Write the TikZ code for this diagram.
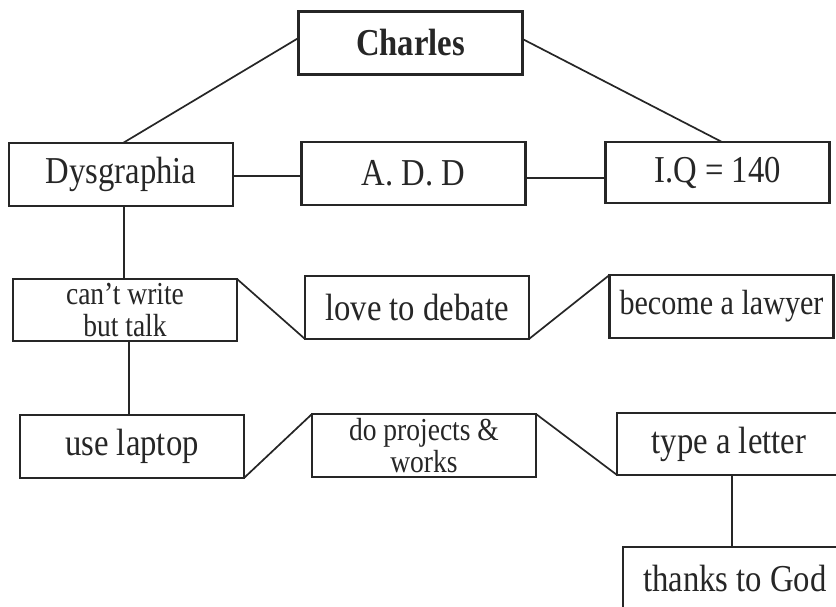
\documentclass[tikz,border=0pt]{standalone}
\usepackage{fontspec}
\setmainfont{Liberation Serif}[FakeStretch=0.86]
\definecolor{ink}{HTML}{262626}
\begin{document}
\begin{tikzpicture}[x=1pt,y=1pt,
  box/.style={draw=ink,line width=2.1pt,minimum width=224pt,minimum height=63pt,
    inner sep=0pt,outer sep=0pt,text=ink,align=center,font=\fontsize{38}{40}\selectfont},
  smalltext/.style={font=\fontsize{32}{32}\selectfont},
  midtext/.style={font=\fontsize{35}{37}\selectfont},
  link/.style={draw=ink,line width=1.7pt}]
\clip (0,0) rectangle (836,607);
\fill[white] (0,0) rectangle (836,607);
% nodes (y = 607 - pixel y)
\node[box,font=\fontsize{38}{40}\selectfont\bfseries] (charles) at (410.5,564) {Charles};
\node[box] (dys) at (121,432.5) {Dysgraphia};
\node[box] (add) at (413.5,433.5) {A. D. D};
\node[box,minimum height=61pt] (iq) at (717.5,434.5) {I.Q = 140};
\node[box,smalltext,minimum height=62pt] (cant) at (125,297) {can’t write\\but talk};
\node[box] (love) at (417,299.5) {love to debate};
\node[box,midtext] (lawyer) at (721.5,300.5) {become a lawyer};
\node[box] (laptop) at (132,160.5) {use laptop};
\node[box,smalltext] (proj) at (424,161.5) {do projects \&\\works};
\node[box,minimum height=62pt] (letter) at (729,163) {type a letter};
\node[box] (thanks) at (735,28.5) {thanks to God};
% connectors
\draw[link] ([yshift=5pt]charles.west) -- ([xshift=2pt]dys.north);
\draw[link] ([yshift=4pt]charles.east) -- ([xshift=4.5pt]iq.north);
\draw[link] ([yshift=-1.5pt]dys.east) -- ([yshift=-1.5pt]dys.east -| add.west);
\draw[link] ([yshift=-4.5pt]add.east) -- ([yshift=-4.5pt]add.east -| iq.west);
\draw[link] ([xshift=3pt]dys.south) -- ([xshift=3pt]dys.south |- cant.north);
\draw[link] (cant.north east) -- (love.south west);
\draw[link] (love.south east) -- (lawyer.north west);
\draw[link] ([xshift=4pt]cant.south) -- ([xshift=4pt]cant.south |- laptop.north);
\draw[link] (laptop.south east) -- (proj.north west);
\draw[link] (proj.north east) -- (letter.south west);
\draw[link] ([xshift=3pt]letter.south) -- ([xshift=3pt]letter.south |- thanks.north);
\end{tikzpicture}
\end{document}
